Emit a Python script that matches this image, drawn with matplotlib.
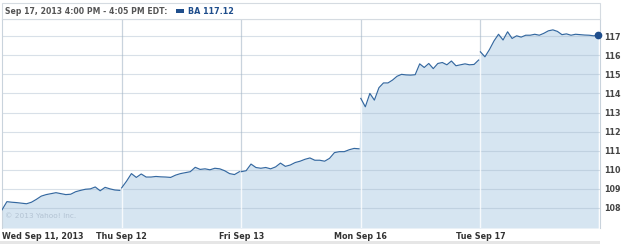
import numpy as np
import matplotlib
matplotlib.use("Agg")
import matplotlib.pyplot as plt
from matplotlib.patches import Rectangle

# ---- data ----
day_labels = ["Wed Sep 11, 2013", "Thu Sep 12", "Fri Sep 13", "Mon Sep 16", "Tue Sep 17"]
y_ticks = [108, 109, 110, 111, 112, 113, 114, 115, 116, 117]
header_text = "Sep 17, 2013 4:00 PM - 4:05 PM EDT:"
legend_text = "BA 117.12"
copyright_text = "\u00a9 2013 Yahoo! Inc."

wed = [107.9, 108.33, 108.3, 108.28, 108.25, 108.22, 108.3, 108.45, 108.62, 108.7,
       108.75, 108.8, 108.75, 108.7, 108.72, 108.85, 108.92, 108.98, 109.0, 109.1,
       108.9, 109.08, 109.0, 108.94, 108.92]
thu = [109.05, 109.4, 109.8, 109.6, 109.78, 109.62, 109.62, 109.65, 109.63, 109.62,
       109.6, 109.72, 109.8, 109.85, 109.9, 110.13, 110.02, 110.05, 110.0, 110.08,
       110.05, 109.95, 109.8, 109.75, 109.9]
fri = [109.9, 109.95, 110.3, 110.12, 110.08, 110.12, 110.05, 110.15, 110.35, 110.18,
       110.25, 110.38, 110.45, 110.55, 110.62, 110.5, 110.5, 110.45, 110.6, 110.9,
       110.95, 110.95, 111.05, 111.12, 111.1]
mon = [113.74, 113.3, 114.0, 113.65, 114.3, 114.55, 114.55, 114.7, 114.9, 115.0,
       114.97, 114.96, 114.98, 115.55, 115.36, 115.57, 115.3, 115.57, 115.62, 115.5,
       115.7, 115.45, 115.5, 115.55, 115.5, 115.52, 115.75]
tue = [116.18, 115.92, 116.3, 116.75, 117.1, 116.8, 117.23, 116.88, 117.02, 116.95,
       117.05, 117.05, 117.1, 117.05, 117.15, 117.28, 117.33, 117.25, 117.08, 117.12,
       117.05, 117.1, 117.08, 117.06, 117.05, 117.02, 117.05]
days = [wed, thu, fri, mon, tue]

# ---- figure ----
W, H = 625, 244
fig = plt.figure(figsize=(W / 100, H / 100), dpi=100)
ax = fig.add_axes([2 / W, (H - 228) / H, 598 / W, 209 / H])
ax.set_xlim(0, 5)
ax.set_ylim(106.95, 117.9)

line_color = "#3468a0"
fill_color = "#d6e5f1"

xs_all, ys_all = [], []
for d, vals in enumerate(days):
    x = d + np.linspace(0, 0.985, len(vals))
    xs_all.append(x)
    ys_all.append(np.array(vals))
    ax.plot(x, vals, color=line_color, lw=0.85, zorder=4, solid_joinstyle="round")
X = np.concatenate(xs_all)
Y = np.concatenate(ys_all)
poly = ax.fill_between(X, 106.95, Y, color=fill_color, lw=0, zorder=1)

# horizontal grid
for v in y_ticks:
    ax.axhline(v, color="#9fb3c7", alpha=0.4, lw=0.8, zorder=2)
# vertical grid: gray above, white inside fill
for d in range(1, 5):
    ax.axvline(d, color="#c9d3dd", lw=0.9, zorder=0.5)
    wl = ax.axvline(d, color="white", lw=1.0, alpha=0.8, zorder=3)
    wl.set_clip_path(poly.get_paths()[0], ax.transData)

# end marker
ax.plot([X[-1]], [Y[-1]], "o", color="#1f4e8c", ms=4.5, zorder=5, clip_on=False)

for s in ["left", "right", "top"]:
    ax.spines[s].set_color("#c9d3dc")
    ax.spines[s].set_linewidth(0.8)
ax.spines["bottom"].set_visible(False)

font = "DejaVu Sans"
ax.yaxis.tick_right()
ax.set_yticks(y_ticks)
ax.set_yticklabels([str(v) for v in y_ticks], fontsize=5.8, fontweight="bold",
                   color="#444444", family=font)
ax.tick_params(axis="y", length=0, pad=3)
ax.set_xticks(range(5))
ax.set_xticklabels(day_labels, fontsize=5.8, fontweight="bold", color="#333333", family=font)
ax.tick_params(axis="x", length=0, pad=3)
ax.get_xticklabels()[0].set_horizontalalignment("left")

ax.text(0.005, 0.045, copyright_text, transform=ax.transAxes, fontsize=5.3,
        color="#b3c3d3", family=font, va="bottom", zorder=6)

# header box
fig.add_artist(Rectangle((2 / W, (H - 19) / H), 598 / W, 16 / H, transform=fig.transFigure,
                         facecolor="white", edgecolor="#d5dbe1", lw=0.8))
fig.text(5 / W, (H - 11.5) / H, header_text, fontsize=5.6, fontweight="bold",
         color="#555555", family=font, va="center")
fig.add_artist(Rectangle((176 / W, (H - 13) / H), 8 / W, 3.5 / H, transform=fig.transFigure,
                         facecolor="#1f4e8c", edgecolor="none"))
fig.text(188 / W, (H - 11.5) / H, legend_text, fontsize=5.8, fontweight="bold",
         color="#1f4e8c", family=font, va="center")

# bottom gray band
fig.add_artist(Rectangle((0, 0), 600 / W, 3 / H, transform=fig.transFigure,
                         facecolor="#e6e6e6", edgecolor="none"))

fig.savefig("out.png", dpi=100)
